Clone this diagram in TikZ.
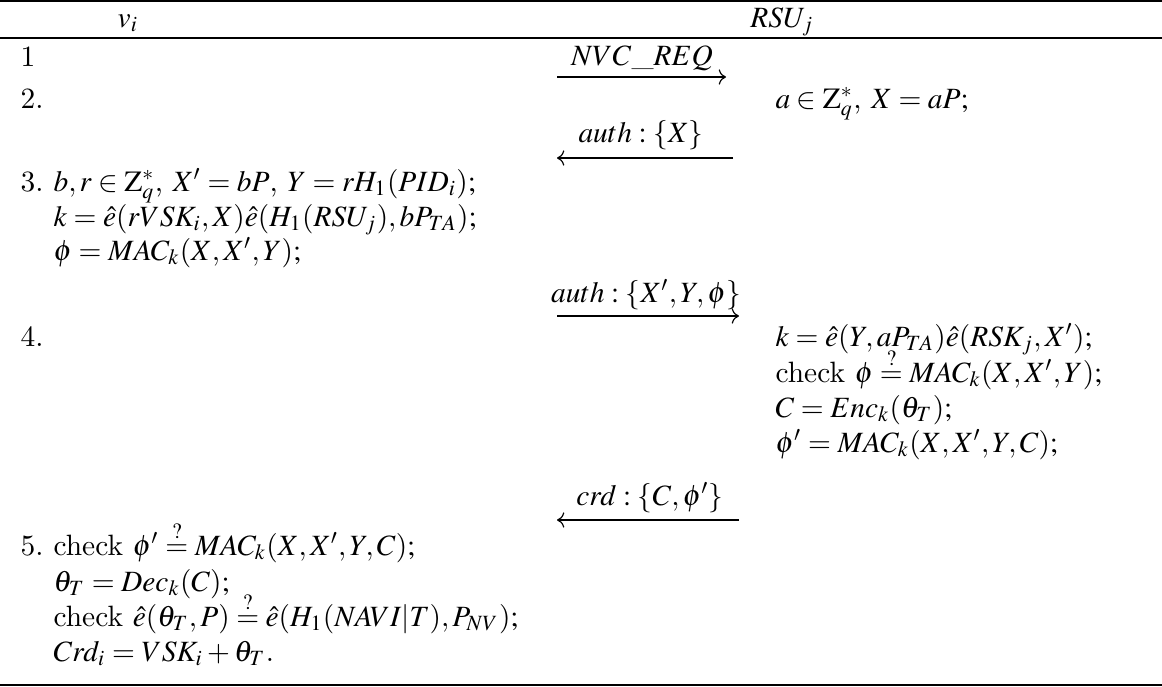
\documentclass[tikz,border=0pt]{standalone}
\usepackage{mathptmx}
\usetikzlibrary{arrows.meta}
\begin{document}
\begin{tikzpicture}[x=0.34pt,y=-0.34pt,
  txt/.style={anchor=base west, inner sep=0pt, font=\fontsize{10}{12}\selectfont},
  ctr/.style={anchor=base, inner sep=0pt, font=\fontsize{10}{12}\selectfont},
  msg/.style={line width=0.4pt, -{Computer Modern Rightarrow}},
  thickrule/.style={line width=0.8pt},
  thinrule/.style={line width=0.5pt}]
\useasboundingbox (0,0) rectangle (1162,686);
% rules
\coordinate (tl) at (0,1.2); \coordinate (tr) at (1162,1.2);
\coordinate (ml) at (0,38); \coordinate (mr) at (1162,38);
\coordinate (bl) at (0,684.8); \coordinate (br) at (1162,684.8);
\draw[thickrule] (tl) -- (tr);
\draw[thinrule] (ml) -- (mr);
\draw[thickrule] (bl) -- (br);
% header
\node[ctr] (hv) at (128,27) {$v_i$};
\node[ctr] (hr) at (782,27) {$RSU_j$};
% row 1
\node[txt] (n1) at (20,66) {1};
\node[ctr] (l1) at (642,65) {$NVC\_REQ$};
\coordinate (a1s) at (557,77); \coordinate (a1e) at (726,77);
\draw[msg] (a1s) -- (a1e);
% row 2
\node[txt] (n2) at (20,108) {2.};
\node[txt] (r2) at (775,108) {$a\in \mathrm{Z}_q^*$, $X=aP;$};
\node[ctr] (l2) at (641,142) {$auth:\{X\}$};
\coordinate (a2s) at (733,158); \coordinate (a2e) at (557,158);
\draw[msg] (a2s) -- (a2e);
% row 3
\node[txt] (n3) at (20,191) {3.};
\node[txt] (v3a) at (53,191) {$b,r\in \mathrm{Z}_q^*$, $X'=bP$, $Y=rH_1(PID_i);$};
\node[txt] (v3b) at (53,226) {$k=\hat{e}(rVSK_i,X)\hat{e}(H_1(RSU_j),bP_{TA});$};
\node[txt] (v3c) at (53,260) {$\phi=MAC_k(X,X',Y);$};
\node[ctr] (l3) at (646,302) {$auth:\{X',Y,\phi\}$};
\coordinate (a3s) at (557,316); \coordinate (a3e) at (739,316);
\draw[msg] (a3s) -- (a3e);
% row 4
\node[txt] (n4) at (20,346) {4.};
\node[txt] (r4a) at (775,346) {$k=\hat{e}(Y,aP_{TA})\hat{e}(RSK_j,X');$};
\node[txt] (r4b) at (775,382) {check $\phi\stackrel{?}{=}MAC_k(X,X',Y);$};
\node[txt] (r4c) at (775,417) {$C=Enc_k(\theta_T);$};
\node[txt] (r4d) at (775,452) {$\phi'=MAC_k(X,X',Y,C);$};
\node[ctr] (l4) at (650,505) {$crd:\{C,\phi'\}$};
\coordinate (a4s) at (739,520); \coordinate (a4e) at (557,520);
\draw[msg] (a4s) -- (a4e);
% row 5
\node[txt] (n5) at (20,555) {5.};
\node[txt] (v5a) at (53,555) {check $\phi'\stackrel{?}{=}MAC_k(X,X',Y,C);$};
\node[txt] (v5b) at (53,591) {$\theta_T=Dec_k(C);$};
\node[txt] (v5c) at (53,626) {check $\hat{e}(\theta_T,P)\stackrel{?}{=}\hat{e}(H_1(NAVI|T),P_{NV});$};
\node[txt] (v5d) at (53,661) {$Crd_i=VSK_i+\theta_T.$};
\end{tikzpicture}
\end{document}
